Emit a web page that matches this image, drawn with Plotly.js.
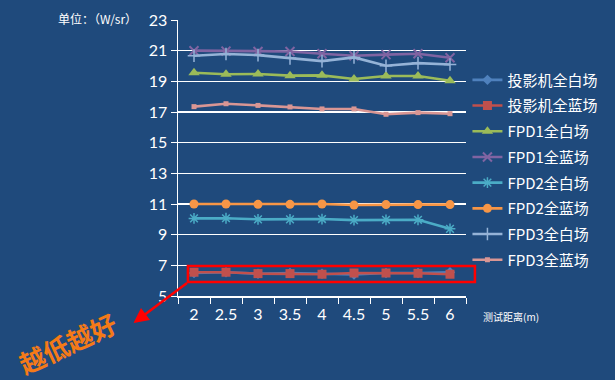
<!DOCTYPE html>
<html>
<head>
<meta charset="utf-8">
<script src="https://cdn.plot.ly/plotly-3.0.1.min.js"></script>
<style>html,body{margin:0;padding:0;background:#1f4a7c;}#chart{width:615px;height:380px;}</style>
</head>
<body>
<div id="chart"></div>
<script>
const distances = ['2','2.5','3','3.5','4','4.5','5','5.5','6'];
const seriesNames = ['投影机全白场','投影机全蓝场','FPD1全白场','FPD1全蓝场','FPD2全白场','FPD2全蓝场','FPD3全白场','FPD3全蓝场'];
const projWhite = [6.5, 6.55, 6.45, 6.5, 6.45, 6.4, 6.5, 6.5, 6.55];
const projBlue  = [6.55, 6.55, 6.46, 6.46, 6.42, 6.5, 6.5, 6.48, 6.42];
const fpd1White = [19.56, 19.46, 19.48, 19.37, 19.39, 19.15, 19.35, 19.35, 19.04];
const fpd1Blue  = [21.0, 20.97, 20.95, 20.95, 20.8, 20.67, 20.74, 20.8, 20.54];
const fpd2White = [10.06, 10.07, 10.0, 10.0, 10.02, 9.95, 9.97, 9.97, 9.38];
const fpd2Blue  = [11.0, 11.0, 10.98, 10.98, 11.0, 10.93, 10.96, 10.96, 10.96];
const fpd3White = [20.67, 20.78, 20.71, 20.5, 20.32, 20.56, 20.02, 20.19, 20.1];
const fpd3Blue  = [17.35, 17.54, 17.43, 17.33, 17.2, 17.2, 16.85, 16.96, 16.89];
const yTicks = [5,7,9,11,13,15,17,19,21,23];

const values = [projWhite, projBlue, fpd1White, fpd1Blue, fpd2White, fpd2Blue, fpd3White, fpd3Blue];
const colors = ['#4F81BD','#C0504D','#9BBB59','#8064A2','#4BACC6','#F79646','#95B3D7','#D99694'];
const markers = [
  {symbol:'diamond', size:8},
  {symbol:'square', size:9},
  {symbol:'triangle-up', size:10},
  {symbol:'x-thin-open', size:9, line:{width:2}},
  {symbol:'asterisk-open', size:9, line:{width:1.5}},
  {symbol:'circle', size:9},
  {symbol:'cross-thin-open', size:9, line:{width:1.5}},
  {symbol:'square', size:5}
];
const data = seriesNames.map((name, i) => {
  const m = Object.assign({color: colors[i]}, markers[i]);
  if (m.line) m.line = Object.assign({color: colors[i]}, m.line);
  return {
    type:'scatter', mode:'lines+markers', name: name, legendgroup: 'g' + i,
    x: distances, y: values[i],
    line:{color: colors[i], width:2.6},
    marker: m
  };
});

const layout = {
  width:615, height:380,
  paper_bgcolor:'#1f4a7c', plot_bgcolor:'#1f4a7c',
  margin:{l:178, r:146, t:20, b:84},
  font:{family:'Lato, "Noto Sans CJK SC", sans-serif', color:'#ffffff'},
  showlegend:true,
  legend:{x:1.005, xanchor:'left', y:0.842, yanchor:'top', bgcolor:'rgba(0,0,0,0)',
          font:{size:15, color:'#ffffff', family:'"Noto Sans CJK SC", Lato, sans-serif'},
          itemwidth:30, tracegroupgap:3.2},
  xaxis:{type:'category', categoryorder:'array', categoryarray: distances,
         range:[-0.5, 8.5], showgrid:false, showline:true, linecolor:'#ffffff', linewidth:1.5,
         ticks:'outside', tickson:'boundaries', ticklen:6, tickcolor:'#ffffff', ticklabelstandoff:3,
         tickfont:{size:16, color:'#ffffff'}, zeroline:false, fixedrange:true},
  yaxis:{range:[5,23], tickvals: yTicks, showgrid:true, gridcolor:'#ffffff', gridwidth:1.5,
         showline:true, linecolor:'#ffffff', linewidth:1.5, ticks:'outside', ticklen:6,
         tickcolor:'#ffffff', tickfont:{size:16, color:'#ffffff'}, zeroline:false, fixedrange:true},
  shapes:[
    {type:'rect', xref:'paper', yref:'paper', x0:0.0344, x1:1.031, y0:0.0507, y1:0.1087,
     line:{color:'#ff0000', width:2.5}, fillcolor:'rgba(0,0,0,0)'}
  ],
  annotations:[
    {xref:'paper', yref:'paper', x:-0.137, y:1.007, xanchor:'right', yanchor:'middle',
     text:'单位：（W/sr）', showarrow:false,
     font:{size:12, color:'#ffffff', family:'"Noto Sans CJK SC", "DejaVu Sans Mono", monospace'}},
    {xref:'paper', yref:'paper', x:1.052, y:-0.0725, xanchor:'left', yanchor:'middle',
     text:'测试距离(m)', showarrow:false,
     font:{size:10, color:'#ffffff', family:'"Noto Sans CJK SC", sans-serif'}},
    {xref:'paper', yref:'paper', x:-0.1546, y:-0.0978, ax:55, ay:-41, axref:'pixel', ayref:'pixel',
     text:'', showarrow:true, arrowhead:2, arrowsize:1.2, arrowwidth:2.5, arrowcolor:'#ff0000'},
    {xref:'paper', yref:'paper', x:(66-178)/291, y:(296-342)/276, xanchor:'center', yanchor:'middle',
     text:'<b>越低越好</b>', showarrow:false, textangle:-25, borderpad:0,
     font:{size:26, color:'#f47a18', family:'"Noto Sans CJK SC", sans-serif'}}
  ]
};
Plotly.newPlot('chart', data, layout, {displayModeBar:false, staticPlot:true});
</script>
</body>
</html>
